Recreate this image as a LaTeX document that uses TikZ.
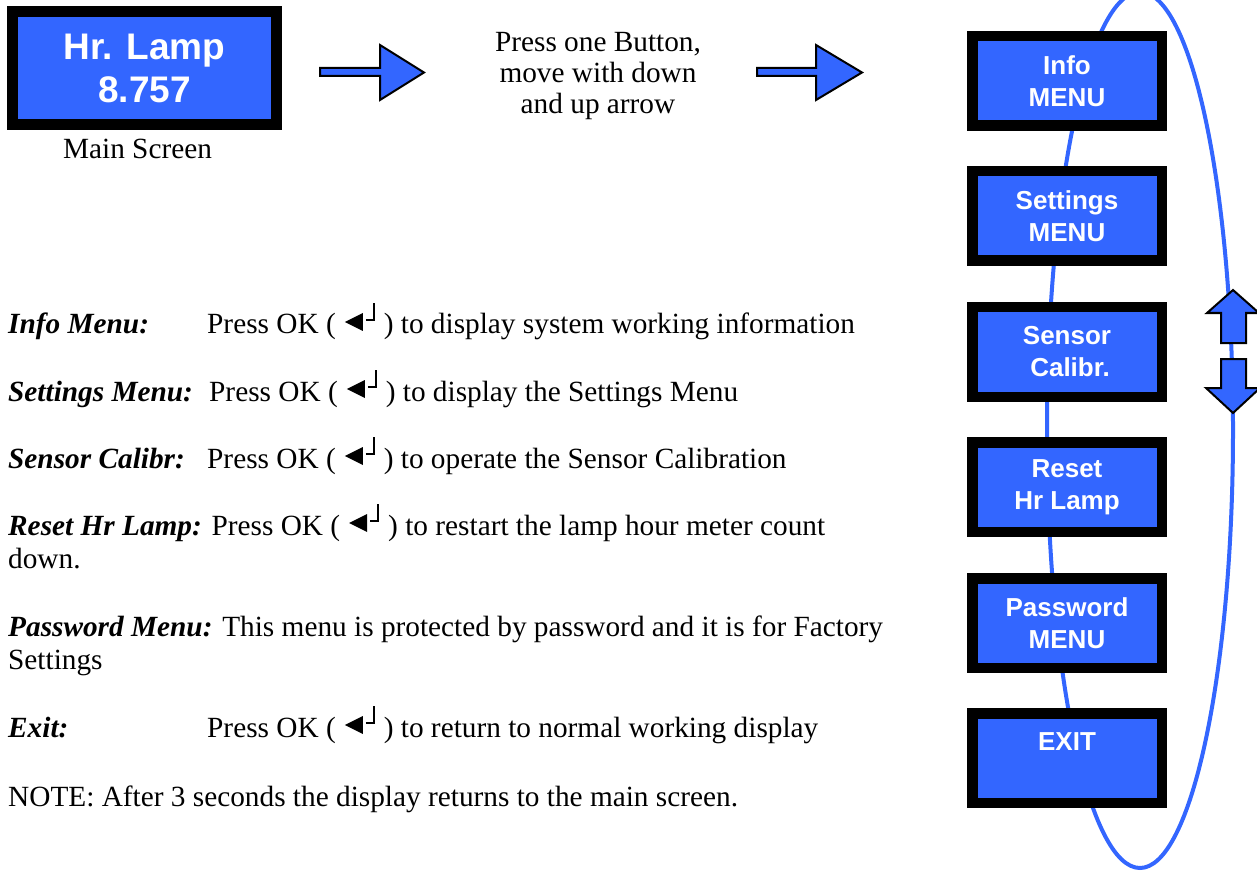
\documentclass[tikz,border=0pt]{standalone}
\usepackage{fontspec}
\setmainfont{Liberation Serif}
\newfontfamily\sansb{Liberation Sans}
\definecolor{lcdblue}{RGB}{51,102,255}
\newcommand{\okkey}{(\kern9pt\tikz[baseline=0pt,x=1pt,y=1pt]{\fill (0,12)--(18,21)--(18,3)--cycle; \draw[line width=2pt] (21,14)--(29,14)--(29,31);}\kern9pt)}
\newcommand{\bi}[1]{\textbf{\textit{#1}}}
\begin{document}
\begin{tikzpicture}[x=1pt,y=-1pt,
  menubox/.style={draw=black, fill=lcdblue, line width=10.5pt, minimum width=189.5pt, minimum height=89.5pt, inner sep=0pt, outer sep=0pt, text=white, font=\sansb\bfseries\fontsize{26}{32}\selectfont, align=center},
  mainbox/.style={draw=black, fill=lcdblue, line width=11pt, minimum width=264pt, minimum height=113pt, inner sep=0pt, outer sep=0pt, text=white, font=\sansb\bfseries\fontsize{37}{43}\selectfont, align=center},
  body/.style={anchor=base west, inner sep=0pt, font=\fontsize{29.3}{33.7}\selectfont},
  ctext/.style={anchor=base, inner sep=0pt, font=\fontsize{29.3}{33.7}\selectfont},
  blockarrow/.style={draw=black, fill=lcdblue, line width=2pt, line join=miter},
  loop/.style={draw=lcdblue, line width=4pt}
]
\useasboundingbox (0,0) rectangle (1257,874);
\clip (0,0) rectangle (1257,874);
% loop behind the menu
\draw[loop] (1140,430) ellipse [x radius=93pt, y radius=438pt];
% main screen
\node[mainbox] (main) at (144.5,68) {Hr. Lamp\\8.757};
\node[ctext] (mainlbl) at (137.5,159) {Main Screen};
% arrows on top
\draw[blockarrow] (320,68)--(380,68)--(380,45)--(424,72.5)--(380,100)--(380,76)--(320,76)--cycle;
\draw[blockarrow] (757,68)--(816,68)--(816,45)--(862,72.5)--(816,100)--(816,76)--(757,76)--cycle;
\node[ctext] (p1) at (598,52) {Press one Button,};
\node[ctext] (p2) at (598,83) {move with down};
\node[ctext] (p3) at (598,114) {and up arrow};
% menu boxes
\node[menubox] (minfo) at (1067,81) {Info\\MENU};
\node[menubox] (mset) at (1067,216) {Settings\\MENU\hspace{12pt}};
\node[menubox] (msens) at (1067,352) {Sensor\\\hspace{6pt}Calibr.};
\node[menubox] (mreset) at (1067,487) {Reset\\Hr Lamp};
\node[menubox] (mpass) at (1067,623) {Password\hspace{6pt}\\MENU\hspace{12pt}};
\node[menubox] (mexit) at (1067,758) {EXIT\\\mbox{}};
% up / down arrows
\draw[blockarrow] (1221,343)--(1221,313)--(1207,313)--(1233,290)--(1259,313)--(1246,313)--(1246,343)--cycle;
\draw[blockarrow] (1221,359)--(1246,359)--(1246,388)--(1260,388)--(1233,413)--(1206,388)--(1221,388)--cycle;
% descriptions
\node[body] (l1) at (8,334) {\bi{Info Menu:}};
\node[body] (t1) at (207,334) {Press OK \okkey\ to display system working information};
\node[body] (l2) at (8,401) {\bi{Settings Menu:}};
\node[body] (t2) at (209,401) {Press OK \okkey\ to display the Settings Menu};
\node[body] (l3) at (8,468) {\bi{Sensor Calibr:}};
\node[body] (t3) at (207,468) {Press OK \okkey\ to operate the Sensor Calibration};
\node[body] (l4) at (8,535) {\bi{Reset Hr Lamp:} Press OK \okkey\ to restart the lamp hour meter count};
\node[body] (l4b) at (8,568.5) {down.};
\node[body] (l5) at (8,636) {\bi{Password Menu:} This menu is protected by password and it is for Factory};
\node[body] (l5b) at (8,669) {Settings};
\node[body] (l6) at (8,737) {\bi{Exit:}};
\node[body] (t6) at (207,737) {Press OK \okkey\ to return to normal working display};
\node[body] (note) at (8,806) {NOTE: After 3 seconds the display returns to the main screen.};
\end{tikzpicture}
\end{document}
